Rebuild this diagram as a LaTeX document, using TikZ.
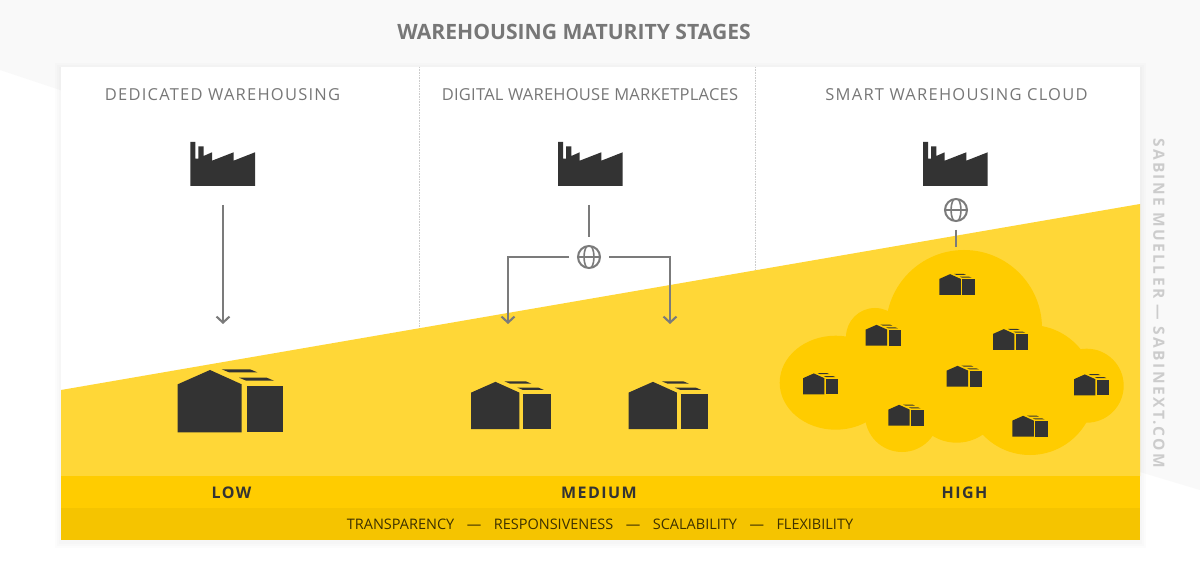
\documentclass[tikz,border=0pt]{standalone}
\usepackage{fontspec}
\setmainfont{Open Sans}
\definecolor{paleback}{HTML}{F9F9F9}
\definecolor{darkicon}{HTML}{333333}
\definecolor{greyline}{HTML}{7B7B7B}
\definecolor{greytext}{HTML}{777777}
\definecolor{yellowlight}{HTML}{FFD737}
\definecolor{yellowmid}{HTML}{FFCC00}
\definecolor{yellowdark}{HTML}{F5C400}
\tikzset{
  headtext/.style={text=greytext,font=\fontsize{16.5}{20}\selectfont\addfontfeature{LetterSpace=#1}},
  leveltext/.style={text=darkicon,font=\fontsize{16}{20}\selectfont\bfseries\addfontfeature{LetterSpace=9}},
  globe/.style={circle,draw=greyline,line width=2pt,minimum size=22pt,inner sep=0pt,outer sep=9pt,
    path picture={
      \draw[greyline,line width=1.6pt] (path picture bounding box.west)--(path picture bounding box.east);
      \draw[greyline,line width=1.6pt] (path picture bounding box.center) ellipse (5pt and 12pt);
    }},
  link/.style={draw=greyline,line width=2.1pt},
  linkarrow/.style={link,-{Straight Barb[length=6pt,width=13pt,line width=2.1pt]}},
  pics/factory/.style={code={
    \fill[darkicon] (0,0)--(0,-44)--(5,-44)--(5,-27.3)--(8,-27.3)--(8,-39.7)--(13.3,-39.7)--(13.3,-30)
      --(21.7,-33.7)--(21.7,-25.3)--(43.3,-33.7)--(43.3,-25.3)--(64.7,-33.7)--(64.7,0)--cycle;
  }},
  pics/warehouse/.style={code={
    \fill[darkicon] (0,0)--(0,-48)--(32.3,-62.3)--(64,-48)--(64,0)--cycle;
    \fill[darkicon] (69,0) rectangle (105.6,-46.6);
    \fill[darkicon] (44,-63)--(72.3,-63)--(79.6,-60)--(51.3,-60)--cycle;
    \fill[darkicon] (61.3,-54.6)--(89,-54.6)--(96.3,-51.6)--(68.6,-51.6)--cycle;
  }}
}
\usetikzlibrary{arrows.meta}
\begin{document}
\begin{tikzpicture}[x=1pt,y=-1pt]
\useasboundingbox (0,0) rectangle (1200,561);
\fill[white] (0,0) rectangle (1200,561);
% pale backdrop
\fill[paleback] (0,0)--(1200,0)--(1200,490)--(1140,472)--(60,90)--(0,70)--cycle;

% card with soft shadow
\foreach \s in {6,4,2}{
\fill[black,opacity=0.012] (61-\s,67-\s+2) rectangle (1140+\s,540+\s+2);
}
\fill[white] (61,67) rectangle (1140,540);
\draw[black!20,densely dotted,line width=0.6pt] (419,67)--(419,328);
\draw[black!20,densely dotted,line width=0.6pt] (755,67)--(755,270);

% yellow areas
\fill[yellowlight] (61,390)--(1140,204)--(1140,476)--(61,476)--cycle;
\fill[yellowmid] (61,476) rectangle (1140,508);
\fill[yellowdark] (61,508) rectangle (1140,540);

% cloud
\fill[yellowmid] (964,328) circle (78);
\fill[yellowmid] (875,337) circle (29);
\fill[yellowmid] (835.7,382.7) ellipse (56 and 47);
\fill[yellowmid] (1086.7,385.7) circle (37);
\fill[yellowmid] (1030,390) circle (65);
\fill[yellowmid] (1035,397) ellipse (52 and 55);
\fill[yellowmid] (902,415) circle (37);
\fill[yellowmid] (956.7,396.7) circle (46);
\fill[yellowmid] (860,350) rectangle (1040,410);

% texts
\node[text=greytext,font=\fontsize{21.1}{25}\selectfont\bfseries] (title) at (574,32) {WAREHOUSING MATURITY STAGES};
\node[headtext=7.5] (heada) at (222.5,95) {DEDICATED WAREHOUSING};
\node[headtext=1.5] (headb) at (590,95) {DIGITAL WAREHOUSE MARKETPLACES};
\node[headtext=7.5] (headc) at (956.5,95) {SMART WAREHOUSING CLOUD};
\node[leveltext] (low) at (231.5,493) {LOW};
\node[leveltext] (medium) at (599,493) {MEDIUM};
\node[leveltext] (high) at (964.5,493) {HIGH};
\node[text=black!75!yellowdark,font=\fontsize{14.5}{18}\selectfont] (qualities) at (600,524.5)
  {TRANSPARENCY\hskip 12.5pt---\hskip 12.5pt RESPONSIVENESS\hskip 12.5pt---\hskip 12.5pt SCALABILITY\hskip 12.5pt---\hskip 12.5pt FLEXIBILITY};
\node[rotate=-90,text=black!20,font=\fontsize{15.5}{18}\selectfont\bfseries\addfontfeature{LetterSpace=15.5}] (credit) at (1159,303) {SABINE MUELLER --- SABINEXT.COM};

% factories
\pic at (190.3,186) {factory};
\pic at (558,186) {factory};
\pic at (923,186) {factory};

% warehouses
\pic at (177.7,432.3) {warehouse};
\pic[scale=0.757] at (471,429) {warehouse};
\pic[scale=0.757] at (628.5,429) {warehouse};
\foreach \p in {(939.3,295),(865.7,345.7),(993,350),(803,394.3),(946.7,386.7),(1074,395.3),(888.3,425.7),(1012.3,436.7)}{
\pic[scale=0.335] at \p {warehouse};
}

% connectors
\coordinate (factorya) at (223,205);
\coordinate (storea) at (223,324);
\draw[linkarrow] (factorya)--(storea);

\coordinate (factoryb) at (589,205);
\coordinate (storeb) at (508,324);
\coordinate (storec) at (670,324);
\node[globe] (globeb) at (589,257) {};
\draw[link] (factoryb)--(globeb.north);
\draw[linkarrow] (globeb.west)-|(storeb);
\draw[linkarrow] (globeb.east)-|(storec);

\coordinate (cloudtop) at (956,247);
\node[globe] (globec) at (956,210) {};
\draw[link] (globec.south)--(cloudtop);
\end{tikzpicture}
\end{document}
